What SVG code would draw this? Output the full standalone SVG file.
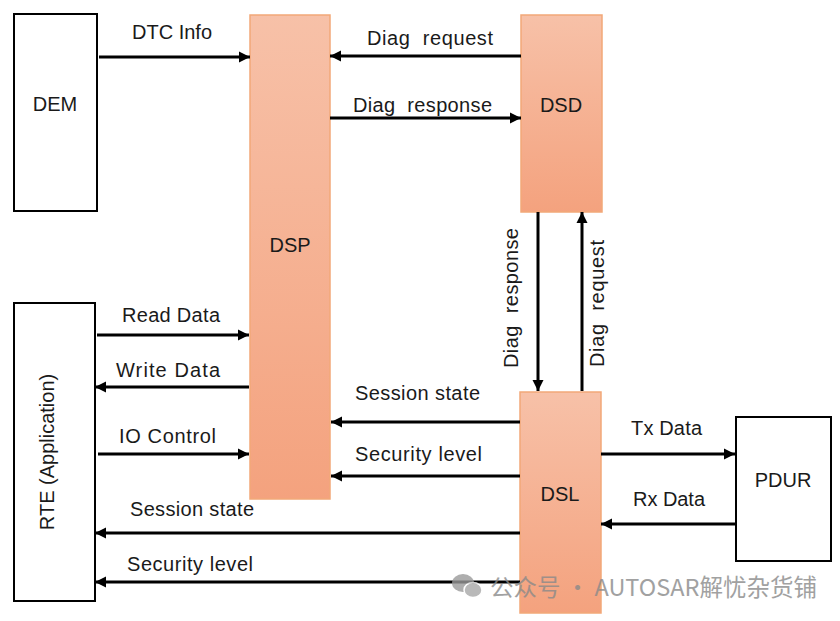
<svg xmlns="http://www.w3.org/2000/svg" width="840" height="621" viewBox="0 0 840 621">
<defs>
<linearGradient id="og" x1="0" y1="0" x2="0" y2="1">
<stop offset="0" stop-color="#f7c1a8"/>
<stop offset="1" stop-color="#f4a27e"/>
</linearGradient>
<marker id="ah" markerUnits="userSpaceOnUse" markerWidth="12" markerHeight="12" refX="11" refY="6" orient="auto" viewBox="0 0 12 12">
<path d="M0,0.5 L11,6 L0,11.5 z" fill="#000"/>
</marker>
<style>
.wb{fill:#fff;stroke:#000;stroke-width:2}
.ob{fill:url(#og);stroke:#f2a878;stroke-width:1.5}
.t{font-family:"Liberation Sans",Arial,sans-serif;font-size:20px;fill:#1a1a1a}
.c{text-anchor:middle}
.a{stroke:#000;stroke-width:3;fill:none;marker-end:url(#ah)}
</style>
</defs>
<rect width="840" height="621" fill="#fff"/>
<g id="DEM"><rect class="wb" x="14" y="14" width="83" height="197"/><text class="t c" x="55" y="111">DEM</text></g>
<g id="RTE"><rect class="wb" x="14" y="303" width="81" height="298"/><text class="t c" transform="translate(54,452) rotate(-90)">RTE (Application)</text></g>
<g id="PDUR"><rect class="wb" x="736" y="417" width="95" height="144"/><text class="t c" x="783" y="487">PDUR</text></g>
<g id="DSP"><rect class="ob" x="250" y="15" width="80" height="484"/><text class="t c" x="290" y="252">DSP</text></g>
<g id="DSD"><rect class="ob" x="521" y="15" width="81" height="197"/><text class="t c" x="561" y="112">DSD</text></g>
<g id="DSL"><rect class="ob" x="520" y="392" width="81" height="221"/><text class="t c" x="560" y="501">DSL</text></g>
<g id="connectors">
<path class="a" d="M99,57 H250"/>
<path class="a" d="M521,56 H330"/>
<path class="a" d="M330,118 H521"/>
<path class="a" d="M97,335 H249"/>
<path class="a" d="M249,387 H95"/>
<path class="a" d="M98,454 H249"/>
<path class="a" d="M520,533 H95"/>
<path class="a" d="M520,582 H95"/>
<path class="a" d="M520,422 H331"/>
<path class="a" d="M520,476 H331"/>
<path class="a" d="M601,454 H735"/>
<path class="a" d="M736,524 H601"/>
<path class="a" d="M538,212 V391"/>
<path class="a" d="M582,391 V212"/>
</g>
<g id="labels">
<text class="t" x="132" y="39" textLength="80">DTC Info</text>
<text class="t" x="367" y="45" textLength="126">Diag&#160; request</text>
<text class="t" x="353" y="112" textLength="139">Diag&#160; response</text>
<text class="t" x="122" y="322" textLength="98">Read Data</text>
<text class="t" x="116" y="377" textLength="104">Write Data</text>
<text class="t" x="119" y="443" textLength="97">IO Control</text>
<text class="t" x="130" y="516" textLength="124">Session state</text>
<text class="t" x="127" y="571" textLength="126">Security level</text>
<text class="t" x="355" y="400" textLength="125">Session state</text>
<text class="t" x="355" y="461" textLength="127">Security level</text>
<text class="t" x="631" y="435" textLength="71">Tx Data</text>
<text class="t" x="633" y="506" textLength="72">Rx Data</text>
<text class="t" transform="translate(518,368) rotate(-90)" textLength="140">Diag&#160; response</text>
<text class="t" transform="translate(604,367) rotate(-90)" textLength="127">Diag&#160; request</text>
</g>
<g id="watermark" opacity="0.8">
<ellipse cx="463" cy="583" rx="11" ry="9" fill="#9a9a9a"/>
<ellipse cx="473" cy="590" rx="9" ry="7.5" fill="#a8a8a8" stroke="#fff" stroke-width="1.5"/>
<text x="490" y="596" font-family="'Noto Sans CJK SC','Noto Sans',sans-serif" font-size="23.5" fill="#8a8a8a">公众号 · AUTOSAR解忧杂货铺</text>
</g>
</svg>
